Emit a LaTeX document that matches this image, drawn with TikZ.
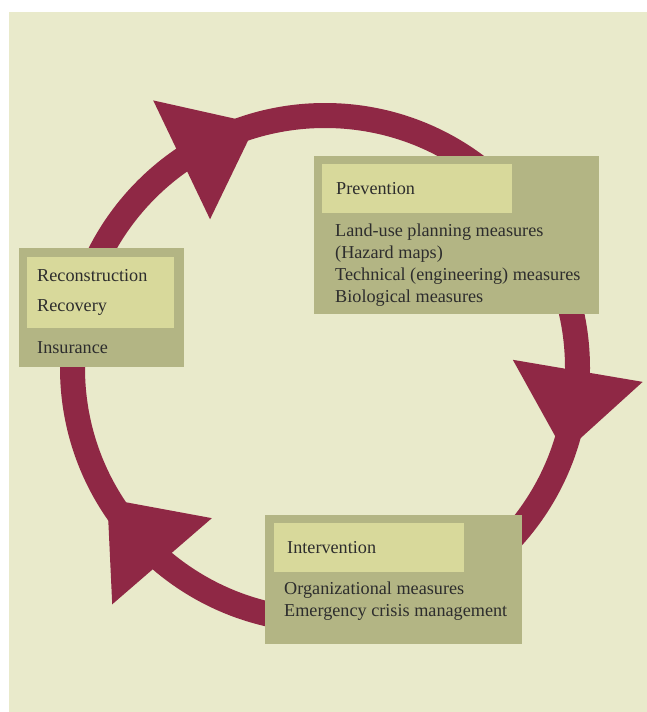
\documentclass[tikz,border=0pt]{standalone}
\usepackage{fontspec}
\setmainfont{Liberation Serif}
\usetikzlibrary{calc}

\definecolor{panelcream}{HTML}{E9EACB}
\definecolor{boxolive}{HTML}{B3B584}
\definecolor{headyellow}{HTML}{D8D99B}
\definecolor{ringred}{HTML}{8F2845}
\definecolor{textgray}{HTML}{2D2D2D}

\begin{document}
\begin{tikzpicture}[x=1pt, y=1pt,
    font=\fontsize{18.2}{22}\selectfont,
    outerbox/.style={fill=boxolive, inner sep=0pt, anchor=north west},
    headbox/.style={fill=headyellow, anchor=north west, align=left,
      inner ysep=0pt, text=textgray},
    bodytext/.style={anchor=base west, align=left, inner sep=0pt, text=textgray}]

    \useasboundingbox (0,0) rectangle (647,-712);
    \fill[white] (0,0) rectangle (647,-712);
    \fill[panelcream] (9,-12) rectangle (647,-712);

    % the cycle
    \coordinate (hub) at (325,-368);
    \draw[ringred, line width=25] (hub) circle (252.5);
    \foreach \a in {125.2, 0, 230.5}
        \fill[ringred] ($(hub)+(\a+2.5:188)$) -- ($(hub)+(\a-2.5:318)$)
            -- ($(hub)+(\a-19.5:254)$) -- cycle;

    % prevention
    \node[outerbox, minimum width=285, minimum height=158] (prevbox) at (314,-156) {};
    \node[headbox, minimum height=49, text width=162, inner xsep=14] (prevhead) at (322,-164) {Prevention};
    \node[bodytext] (prevtext) at (335,-302) {Land-use planning measures\\(Hazard maps)\\Technical (engineering) measures\\Biological measures};

    % reconstruction
    \node[outerbox, minimum width=165, minimum height=119] (recbox) at (19,-248) {};
    \node[headbox, minimum height=71, text width=127, inner xsep=10,
        font=\fontsize{18.2}{30}\selectfont] (rechead) at (27,-257) {Reconstruction\\Recovery};
    \node[bodytext] (rectext) at (37,-353) {Insurance};

    % intervention
    \node[outerbox, minimum width=257, minimum height=129] (intbox) at (265,-515) {};
    \node[headbox, minimum height=49, text width=164, inner xsep=13] (inthead) at (274,-523) {Intervention};
    \node[bodytext] (inttext) at (284,-616) {Organizational measures\\Emergency crisis management};
\end{tikzpicture}
\end{document}
